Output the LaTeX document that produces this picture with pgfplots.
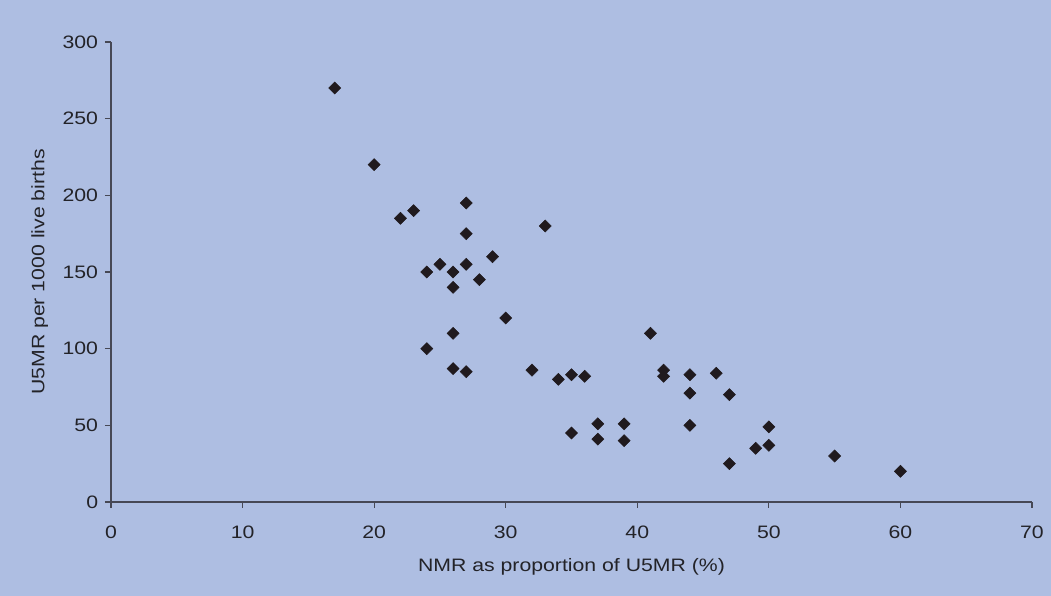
\documentclass[border=0pt]{standalone}
\usepackage{pgfplots}
\pgfplotsset{compat=1.18}
\usepackage{fontspec}
\setmainfont{Liberation Sans}[FakeStretch=1.18]
\definecolor{bg}{RGB}{174,190,226}
\definecolor{axcol}{RGB}{70,72,85}
\definecolor{mk}{RGB}{32,26,30}
\definecolor{txt}{RGB}{35,35,40}
\begin{document}
\begin{tikzpicture}[x=1pt,y=1pt]
\fill[bg] (0,0) rectangle (788.25,447);
\begin{axis}[
  at={(83.25pt,70.5pt)}, anchor=south west,
  scale only axis, width=690.75pt, height=345pt,
  xmin=0, xmax=70, ymin=0, ymax=300,
  xtick={0,10,...,70}, ytick={0,50,...,300},
  axis line style={draw=none},
  xtick pos=bottom, ytick pos=left,
  xtick style={draw=axcol, line width=0.9pt},
  ytick style={draw=axcol, line width=0.8pt},
  major tick length=4.5pt,
  tick align=outside,
  every tick label/.append style={font=\fontsize{13.5}{15}\selectfont, text=txt},
  xticklabel style={anchor=center, yshift=-18pt},
  yticklabel style={anchor=east, inner sep=0pt, xshift=-5pt},
  /pgf/number format/assume math mode=true,
  xlabel={NMR as proportion of U5MR (\%)},
  ylabel={U5MR per 1000 live births},
  label style={font=\fontsize{13.5}{15}\selectfont, text=txt},
  xlabel style={at={(axis description cs:0.5,0)}, anchor=center, yshift=-49pt},
  ylabel style={at={(axis description cs:-0.0773,0.5)}, anchor=center},
  clip=false,
]
\draw[axcol, line width=0.8pt] (axis cs:0,300) -- (axis cs:0,0) -- (axis cs:70,0);
\addplot[only marks, mark=square*, mark size=3.2pt, mark options={rotate=45, fill=mk, draw=mk}] coordinates {
(17,270) (20,220) (22,185) (23,190) (27,195) (27,175) (33,180) (29,160)
(25,155) (27,155) (24,150) (26,150) (28,145) (26,140) (30,120) (26,110)
(41,110) (24,100) (26,87) (27,85) (32,86) (34,80) (35,83) (36,82)
(42,86) (42,82) (44,83) (46,84) (44,71) (47,70) (44,50) (50,49)
(37,51) (39,51) (35,45) (37,41) (39,40) (49,35) (50,37) (47,25)
(55,30) (60,20)
};
\end{axis}
\end{tikzpicture}
\end{document}
